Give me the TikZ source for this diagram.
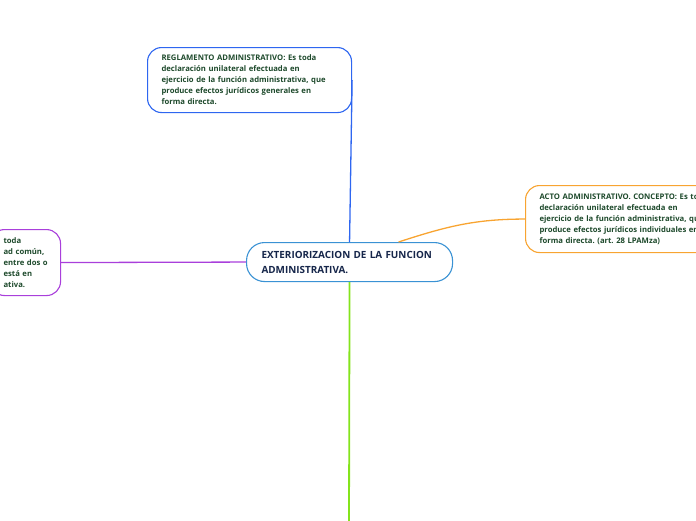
\documentclass[tikz,border=0pt]{standalone}
\usepackage{fontspec}
\setmainfont{Open Sans}
\usetikzlibrary{positioning}
\frenchspacing

\definecolor{azulreg}{HTML}{2E66F0}
\definecolor{azulcentro}{HTML}{3A92D4}
\definecolor{naranja}{HTML}{F8A431}
\definecolor{morado}{HTML}{A93FDB}
\definecolor{verdelinea}{HTML}{84E41C}
\definecolor{textoverde}{HTML}{1E4A2C}
\definecolor{textoazul}{HTML}{16264A}

\begin{document}
\begin{tikzpicture}[
        x=1pt, y=-1pt,
        font=\bfseries\fontsize{7.7}{11}\selectfont,
        caja/.style={draw, line width=1.1pt, rounded corners=14pt, fill=white,
            align=left, anchor=north west, inner ysep=0pt, text=textoverde},
        central/.style={caja, rounded corners=18pt, text=textoazul,
            font=\bfseries\fontsize{9.9}{15}\selectfont},
        rama/.style={line width=1.3pt}
    ]
        % Lienzo
        \useasboundingbox (0,0) rectangle (696,520);
        \clip (0,0) rectangle (696,520);

        % Extremo libre de la rama verde
        \coordinate (finverde) at (349,530);

        % Nodos
        \node[central, draw=azulcentro, text width=176pt, inner xsep=15pt,
            minimum height=39pt] (centro) at (246,242)
            {EXTERIORIZACION DE LA FUNCION\\ADMINISTRATIVA.};

        \node[caja, draw=azulreg, text width=176pt, inner xsep=14pt,
            minimum height=65pt] (reglamento) at (147,47)
            {REGLAMENTO ADMINISTRATIVO: Es toda\\
             declaración unilateral efectuada en\\
             ejercicio de la función administrativa, que\\
             produce efectos jurídicos generales en\\
             forma directa.};

        \node[caja, draw=naranja, text width=200pt, inner xsep=14pt,
            minimum height=67pt] (acto) at (525,185)
            {ACTO ADMINISTRATIVO. CONCEPTO: Es toda\\
             declaración unilateral efectuada en\\
             ejercicio de la función administrativa, que\\
             produce efectos jurídicos individuales en\\
             forma directa. (art. 28 LPAMza)};

        \node[caja, draw=morado, text width=44pt, inner xsep=13pt,
            minimum height=66pt] (contrato) at (-10,229)
            {toda\\
             ad~común,\\
             entre~dos~o\\
             está~en\\
             ativa.};

        % Conectores
        \draw[rama, azulreg] (reglamento.east) -- (centro.north);
        \draw[rama, naranja] ([xshift=49pt]centro.north) to[out=18, in=180] (acto.west);
        \draw[rama, morado] (contrato.east) -- (centro.west);
        \draw[rama, verdelinea, line width=1.8pt] (centro.south) -- (finverde);

    \end{tikzpicture}
\end{document}
